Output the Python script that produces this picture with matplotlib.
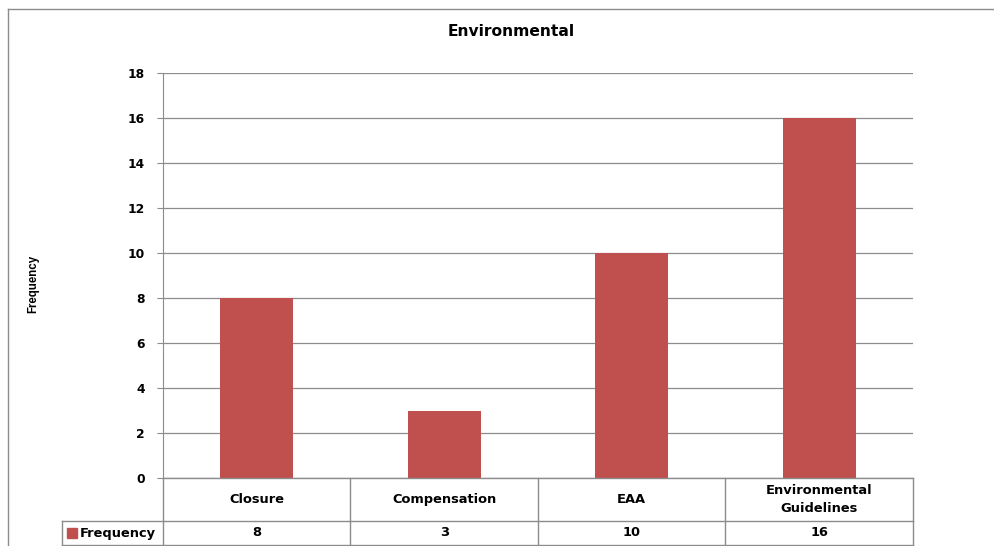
import matplotlib.pyplot as plt
from matplotlib.lines import Line2D
from matplotlib.patches import Rectangle

categories = ["Closure", "Compensation", "EAA", "Environmental\nGuidelines"]
frequency = [8, 3, 10, 16]
yticks = [0, 2, 4, 6, 8, 10, 12, 14, 16, 18]

W, H = 995, 546
bar_color = "#C0504D"
line_gray = "#8C8C8C"


def fx(px):
    return px / W


def fy(py):
    return 1 - py / H


def main():
    fig = plt.figure(figsize=(W / 100, H / 100), dpi=100)
    fig.patch.set_facecolor("white")

    # outer chart border (left and top only visible)
    fig.add_artist(Line2D([fx(8), fx(8)], [fy(9), fy(546)], color=line_gray, lw=1))
    fig.add_artist(Line2D([fx(8), fx(995)], [fy(9), fy(9)], color=line_gray, lw=1))

    left, right, top, bottom = 163, 913, 73, 478
    ax = fig.add_axes([fx(left), fy(bottom), (right - left) / W, (bottom - top) / H])

    x = range(len(categories))
    ax.bar(x, frequency, width=0.39, color=bar_color, zorder=3)
    ax.set_xlim(-0.5, len(categories) - 0.5)
    ax.set_ylim(0, 18)
    ax.set_yticks(yticks)
    ax.set_yticklabels([str(t) for t in yticks], fontsize=8.8, fontweight="bold")
    ax.set_xticks([])
    ax.yaxis.grid(True, color=line_gray, lw=0.9, zorder=0)
    for s in ["top", "right", "bottom"]:
        ax.spines[s].set_visible(False)
    ax.spines["left"].set_color(line_gray)
    ax.tick_params(axis="y", length=4, color=line_gray, pad=9)

    fig.text(fx(511), fy(32), "Environmental", ha="center", va="center",
             fontsize=11.2, fontweight="bold")
    fig.text(fx(33), fy(284), "Frequency", rotation=90, ha="center", va="center",
             fontsize=8.3, fontweight="bold", family="Liberation Sans")

    # data table below the plot
    row1, row2, row3 = 478, 521, 545
    col_w = (right - left) / len(categories)
    cols = [left + i * col_w for i in range(len(categories) + 1)]
    for cx in cols:
        fig.add_artist(Line2D([fx(cx), fx(cx)], [fy(row1), fy(row3)], color=line_gray, lw=1))
    fig.add_artist(Line2D([fx(left), fx(right)], [fy(row1), fy(row1)], color=line_gray, lw=1))
    for ry in (row2, row3):
        fig.add_artist(Line2D([fx(62), fx(right)], [fy(ry), fy(ry)], color=line_gray, lw=1))
    fig.add_artist(Line2D([fx(62), fx(62)], [fy(row2), fy(row3)], color=line_gray, lw=1))

    for i, (cat, val) in enumerate(zip(categories, frequency)):
        cx = cols[i] + col_w / 2
        fig.text(fx(cx), fy((row1 + row2) / 2), cat, ha="center", va="center",
                 fontsize=9.4, fontweight="bold", linespacing=1.45)
        fig.text(fx(cx), fy((row2 + row3) / 2), str(val), ha="center", va="center",
                 fontsize=9.4, fontweight="bold")

    fig.add_artist(Rectangle((fx(67), fy(538)), 10 / W, 10 / H, color=bar_color))
    fig.text(fx(80), fy(533), "Frequency", ha="left", va="center",
             fontsize=9.4, fontweight="bold")

    fig.savefig("out.png", dpi=100)


if __name__ == "__main__":
    main()
